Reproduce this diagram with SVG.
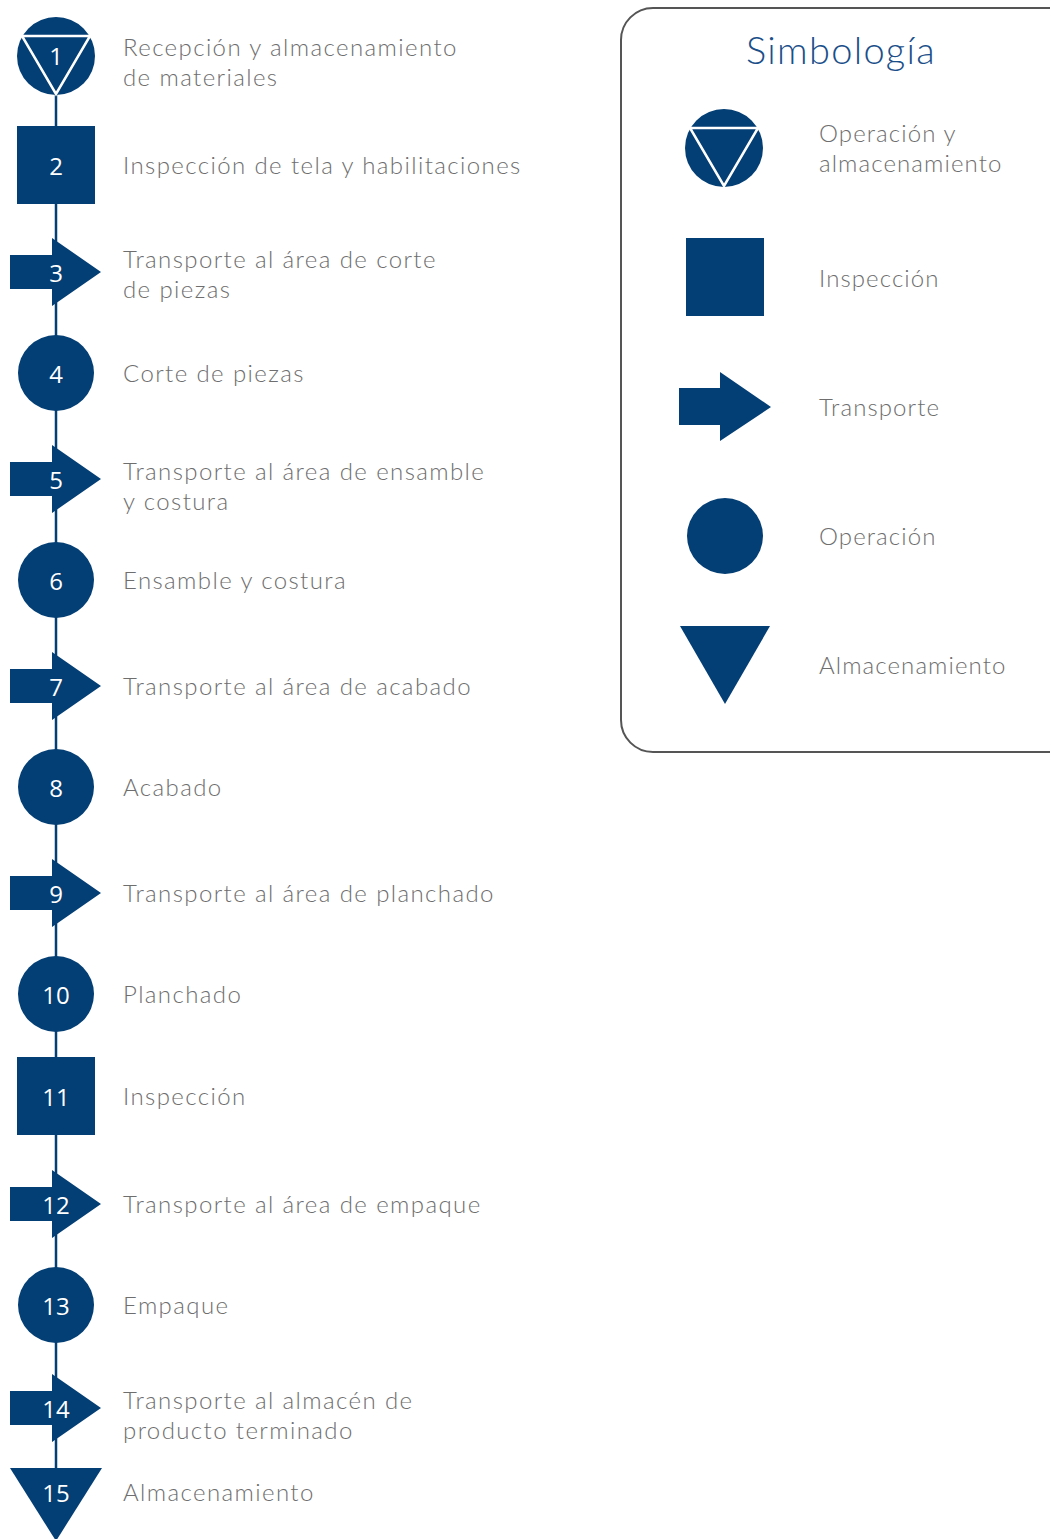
<svg xmlns="http://www.w3.org/2000/svg" width="1050" height="1539" viewBox="0 0 1050 1539">
<style>
.s{fill:#033e74}
.n{fill:#fff;font-family:"Open Sans","Liberation Sans",sans-serif;font-size:24px;text-anchor:middle;dominant-baseline:central}
.t{fill:#6e6e6e;font-family:"Lato","Liberation Sans",sans-serif;font-weight:300;font-size:24px;letter-spacing:1.4px}
.l{letter-spacing:1.1px}
.w{fill:none;stroke:#fff;stroke-width:2.5}
</style>
<defs>
<path id="arr" d="M-46,-17 H-4 V-34 L45,0 L-4,34 V17 H-46 Z"/>
</defs>
<rect x="621" y="8" width="460" height="744" rx="32" fill="#fff" stroke="#555" stroke-width="2"/>
<g id="connectors">
<line x1="56" y1="90" x2="56" y2="1470" stroke="#033e74" stroke-width="2.5"/>
</g>
<g id="n1"><circle cx="56" cy="56" r="39" class="s"/><path d="M22,36 H90 L56,94 Z" class="w"/><text x="56" y="55" class="n">1</text>
<text x="123" y="56" class="t">Recepción y almacenamiento</text><text x="123" y="86" class="t">de materiales</text></g>
<g id="n2"><rect x="17" y="126" width="78" height="78" class="s"/><text x="56" y="165" class="n">2</text>
<text x="123" y="174" class="t">Inspección de tela y habilitaciones</text></g>
<g id="n3"><use href="#arr" x="56" y="272" class="s"/><text x="56" y="272" class="n">3</text>
<text x="123" y="268" class="t">Transporte al área de corte</text><text x="123" y="298" class="t">de piezas</text></g>
<g id="n4"><circle cx="56" cy="373" r="38" class="s"/><text x="56" y="373" class="n">4</text>
<text x="123" y="382" class="t">Corte de piezas</text></g>
<g id="n5"><use href="#arr" x="56" y="479" class="s"/><text x="56" y="479" class="n">5</text>
<text x="123" y="480" class="t">Transporte al área de ensamble</text><text x="123" y="510" class="t">y costura</text></g>
<g id="n6"><circle cx="56" cy="580" r="38" class="s"/><text x="56" y="580" class="n">6</text>
<text x="123" y="589" class="t">Ensamble y costura</text></g>
<g id="n7"><use href="#arr" x="56" y="686" class="s"/><text x="56" y="686" class="n">7</text>
<text x="123" y="695" class="t">Transporte al área de acabado</text></g>
<g id="n8"><circle cx="56" cy="787" r="38" class="s"/><text x="56" y="787" class="n">8</text>
<text x="123" y="796" class="t">Acabado</text></g>
<g id="n9"><use href="#arr" x="56" y="893" class="s"/><text x="56" y="893" class="n">9</text>
<text x="123" y="902" class="t">Transporte al área de planchado</text></g>
<g id="n10"><circle cx="56" cy="994" r="38" class="s"/><text x="56" y="994" class="n">10</text>
<text x="123" y="1003" class="t">Planchado</text></g>
<g id="n11"><rect x="17" y="1057" width="78" height="78" class="s"/><text x="56" y="1096" class="n">11</text>
<text x="123" y="1105" class="t">Inspección</text></g>
<g id="n12"><use href="#arr" x="56" y="1204" class="s"/><text x="56" y="1204" class="n">12</text>
<text x="123" y="1213" class="t">Transporte al área de empaque</text></g>
<g id="n13"><circle cx="56" cy="1305" r="38" class="s"/><text x="56" y="1305" class="n">13</text>
<text x="123" y="1314" class="t">Empaque</text></g>
<g id="n14"><use href="#arr" x="56" y="1408" class="s"/><text x="56" y="1408" class="n">14</text>
<text x="123" y="1409" class="t">Transporte al almacén de</text><text x="123" y="1439" class="t">producto terminado</text></g>
<g id="n15"><path d="M10,1468 H102 L56,1541 Z" class="s"/><text x="56" y="1492" class="n">15</text>
<text x="123" y="1501" class="t">Almacenamiento</text></g>
<g id="legend">
<text x="841" y="64" text-anchor="middle" fill="#1b4f8a" font-family="Lato,'Liberation Sans',sans-serif" font-weight="300" font-size="38" letter-spacing="1.3">Simbología</text>
<circle cx="724" cy="148" r="39" class="s"/><path d="M690,128 H758 L724,186 Z" class="w"/>
<text x="819" y="142" class="t l">Operación y</text><text x="819" y="172" class="t l">almacenamiento</text>
<rect x="686" y="238" width="78" height="78" class="s"/>
<text x="819" y="287" class="t l">Inspección</text>
<path d="M679,388 H720 V372 L771,407 L720,441 V425 H679 Z" class="s"/>
<text x="819" y="416" class="t l">Transporte</text>
<circle cx="725" cy="536" r="38" class="s"/>
<text x="819" y="545" class="t l">Operación</text>
<path d="M680,626 H770 L725,704 Z" class="s"/>
<text x="819" y="674" class="t l">Almacenamiento</text>
</g>
</svg>
